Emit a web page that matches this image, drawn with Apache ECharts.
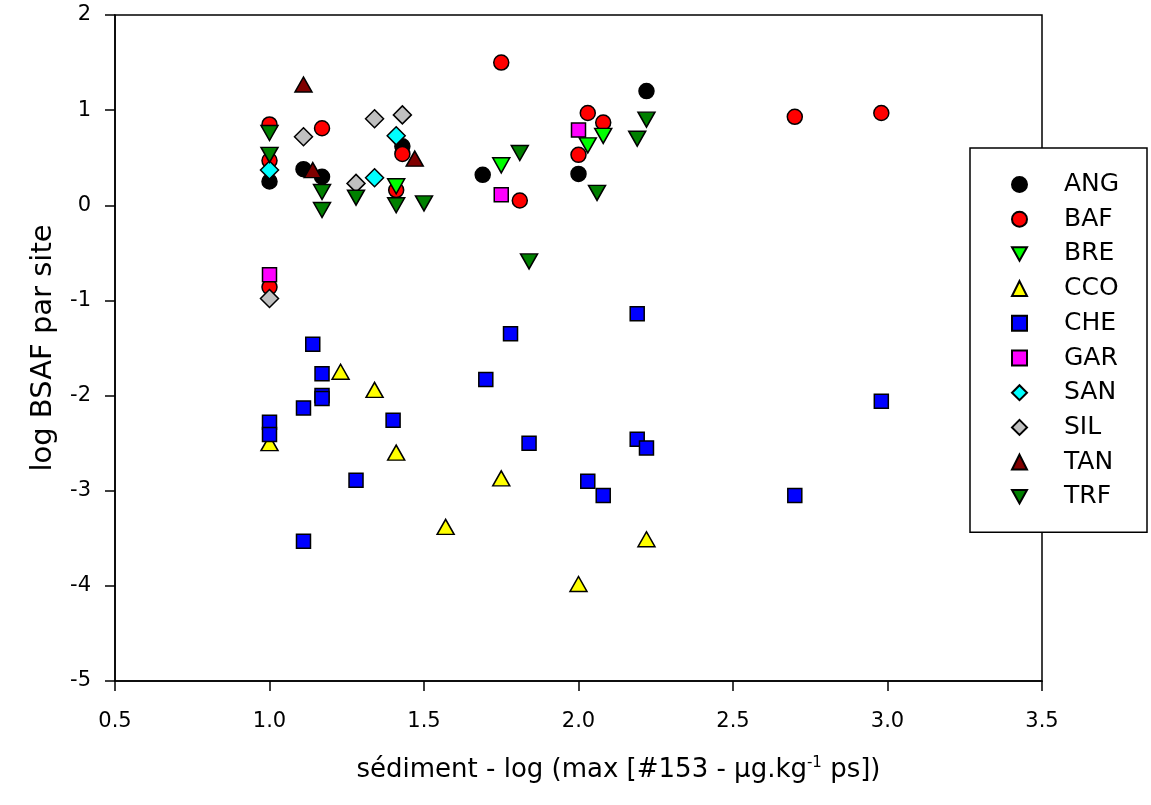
<!DOCTYPE html>
<html>
<head>
<meta charset="utf-8">
<script src="https://cdn.jsdelivr.net/npm/echarts@6/dist/echarts.min.js"></script>
<style>
  html, body { margin: 0; padding: 0; background: #fff; }
  #chart { width: 1151px; height: 805px; }
</style>
</head>
<body>
<div id="chart"></div>
<script>
// [log sediment, log BSAF] pairs per site
const ANG = [[1.0, 0.25], [1.11, 0.38], [1.17, 0.30], [1.43, 0.62], [1.69, 0.32], [2.0, 0.33], [2.22, 1.20]]
const BAF = [[1.0, 0.85], [1.0, 0.47], [1.0, -0.86], [1.17, 0.81], [1.43, 0.54], [1.41, 0.16],
  [1.75, 1.50], [1.81, 0.05], [2.03, 0.97], [2.08, 0.87], [2.0, 0.53], [2.70, 0.93], [2.98, 0.97]]
const BRE = [[1.75, 0.42], [2.03, 0.63], [2.08, 0.73], [1.41, 0.20]]
const CCO = [[1.0, -2.50], [1.23, -1.75], [1.34, -1.94], [1.41, -2.60], [1.57, -3.38], [1.75, -2.87],
  [2.0, -3.98], [2.22, -3.51]]
const CHE = [[1.0, -2.28], [1.0, -2.41], [1.11, -2.13], [1.14, -1.46], [1.17, -1.77], [1.17, -2.00],
  [1.17, -2.03], [1.28, -2.89], [1.11, -3.53], [1.40, -2.26], [2.19, -1.14], [1.78, -1.35], [1.70, -1.83],
  [1.84, -2.50], [2.19, -2.46], [2.22, -2.55], [2.03, -2.90], [2.08, -3.05], [2.70, -3.05], [2.98, -2.06]]
const GAR = [[1.0, -0.73], [1.75, 0.11], [2.0, 0.79]]
const SAN = [[1.0, 0.37], [1.34, 0.29], [1.41, 0.73]]
const SIL = [[1.0, -0.98], [1.11, 0.72], [1.28, 0.23], [1.34, 0.91], [1.43, 0.95]]
const TAN = [[1.11, 1.27], [1.14, 0.37], [1.47, 0.49]]
const TRF = [[1.0, 0.76], [1.0, 0.53], [1.17, 0.14], [1.17, -0.05], [1.28, 0.08], [1.41, 0.0], [1.50, 0.02],
  [1.81, 0.55], [2.06, 0.13], [2.22, 0.90], [2.19, 0.70], [1.84, -0.59]]

const xTicks = [0.5, 3.5, 0.5]   // min, max, step
const yTicks = [-5, 2, 1]

const FONT = 'DejaVu Sans'
const DOWN = 'path://M0,0L2,0L1,1.8Z'

const sites = [
  { name: 'ANG', data: ANG, color: '#000000', symbol: 'circle', size: 15 },
  { name: 'BAF', data: BAF, color: '#ff0000', symbol: 'circle', size: 15 },
  { name: 'BRE', data: BRE, color: '#00ff00', symbol: DOWN, size: [17, 15] },
  { name: 'CCO', data: CCO, color: '#ffff00', symbol: 'triangle', size: [17, 15] },
  { name: 'CHE', data: CHE, color: '#0000ff', symbol: 'rect', size: 14 },
  { name: 'GAR', data: GAR, color: '#ff00ff', symbol: 'rect', size: 14 },
  { name: 'SAN', data: SAN, color: '#00ffff', symbol: 'diamond', size: 18 },
  { name: 'SIL', data: SIL, color: '#c0c0c0', symbol: 'diamond', size: 18 },
  { name: 'TAN', data: TAN, color: '#800000', symbol: 'triangle', size: [17, 15] },
  { name: 'TRF', data: TRF, color: '#008000', symbol: DOWN, size: [17, 15] }
]

const chart = echarts.init(document.getElementById('chart'))

chart.setOption({
  backgroundColor: '#fff',
  animation: false,
  grid: {
    left: 115, right: 109, top: 15, bottom: 124,
    show: true, borderColor: '#000', borderWidth: 1.5, backgroundColor: 'transparent'
  },
  legend: {
    orient: 'vertical',
    left: 970,
    top: 148,
    backgroundColor: '#fff',
    borderColor: '#000',
    borderWidth: 1.5,
    borderRadius: 0,
    padding: [24, 21, 23, 41],
    itemWidth: 15,
    itemHeight: 15,
    itemGap: 9.7,
    textStyle: {
      fontFamily: FONT, fontSize: 25, color: '#000',
      lineHeight: 25, width: 62, padding: [0, 0, 0, 32]
    },
    data: sites.map(s => s.name)
  },
  xAxis: {
    type: 'value',
    min: xTicks[0], max: xTicks[1], interval: xTicks[2],
    name: 'sédiment - log (max [#153 - µg.kg{sup|-1} ps])',
    nameLocation: 'middle',
    nameGap: 75,
    nameTextStyle: {
      fontFamily: FONT, fontSize: 26, color: '#000', padding: [0, 0, 0, 80],
      rich: { sup: { fontFamily: FONT, fontSize: 15, color: '#000', verticalAlign: 'top', padding: [0, 0, 13, 0] } }
    },
    axisLine: { onZero: false, lineStyle: { color: '#000', width: 1.5 } },
    axisTick: { inside: false, length: 10, lineStyle: { color: '#000', width: 1.5 } },
    axisLabel: { fontFamily: FONT, fontSize: 21, color: '#000', margin: 30, formatter: v => v.toFixed(1) },
    splitLine: { show: false }
  },
  yAxis: {
    type: 'value',
    min: yTicks[0], max: yTicks[1], interval: yTicks[2],
    name: 'log BSAF par site',
    nameLocation: 'middle',
    nameGap: 57,
    nameTextStyle: { fontFamily: FONT, fontSize: 29, color: '#000' },
    axisLine: { onZero: false, lineStyle: { color: '#000', width: 1.5 } },
    axisTick: { inside: false, length: 10, lineStyle: { color: '#000', width: 1.5 } },
    axisLabel: { fontFamily: FONT, fontSize: 21, color: '#000', margin: 24 },
    splitLine: { show: false }
  },
  series: sites.map(s => ({
    name: s.name,
    type: 'scatter',
    data: s.data,
    symbol: s.symbol,
    symbolSize: s.size,
    itemStyle: { color: s.color, borderColor: '#000', borderWidth: 1.5, opacity: 1 },
    emphasis: { disabled: true }
  }))
})
</script>
</body>
</html>
